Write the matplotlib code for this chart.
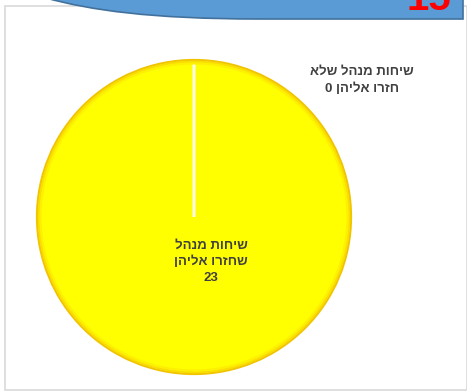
import matplotlib.pyplot as plt
from matplotlib.patches import Rectangle, PathPatch, Circle
from matplotlib.path import Path

# pie data
labels = ["שיחות מנהל\nשחזרו אליהן", "שיחות מנהל שלא\nחזרו אליהן"]
values = [23, 0]
colors = ["#FFFF00", "#FFFF00"]
label_pos = [(0.11, -0.285), (1.07, 0.87)]
badge_number = "15"


def rtl(s):
    # matplotlib has no bidi support: reverse hebrew words, keep numbers
    out = []
    for line in s.split("\n"):
        if line.strip().isdigit():
            out.append(line)
        else:
            out.append(line[::-1])
    return "\n".join(out)


W, H = 467, 392
fig = plt.figure(figsize=(W / 100, H / 100), dpi=100)
fig.patch.set_facecolor("white")

# chart border
fig.add_artist(Rectangle((4.5 / W, 2.5 / H), 462 / W, 384 / H, transform=fig.transFigure,
                         facecolor="none", edgecolor="#D9D9D9", linewidth=1.2))

# blue title banner running off the top
def px(x, y):
    return (x / W, 1 - y / H)

verts = [px(46, -2), px(90, 10), px(150, 19), px(260, 19), px(463, 19), px(463, -5), px(46, -5), px(46, -2)]
codes = [Path.MOVETO, Path.CURVE4, Path.CURVE4, Path.CURVE4, Path.LINETO, Path.LINETO, Path.LINETO, Path.CLOSEPOLY]
fig.add_artist(PathPatch(Path(verts, codes), transform=fig.transFigure,
                         facecolor="#5B9BD5", edgecolor="#41719C", linewidth=1.2))
fig.text(451 / W, 1 - 10 / H, badge_number, ha="right", va="baseline",
         color="#FF0000", fontsize=29, fontweight="bold", family="Liberation Sans")

# pie
R = 157
cx, cy = 194, 217
ax = fig.add_axes([(cx - R) / W, (H - cy - R) / H, 2 * R / W, 2 * R / H])
wedges, _ = ax.pie(values, colors=colors, startangle=90, counterclock=False, radius=1,
                   wedgeprops=dict(edgecolor="white", linewidth=2))
for w in wedges:
    w.set_clip_on(False)
ax.set_xlim(-1, 1)
ax.set_ylim(-1, 1)
ax.set_aspect("equal")
ax.axis("off")

# soft darker rim
rims = [(1.0, "#F0C400", 1.6), (0.989, "#F9DC00", 1.6), (0.978, "#FDF000", 1.6)]
for r, c, lw in rims:
    ax.add_patch(Circle((0, 0), r, facecolor="none", edgecolor=c, linewidth=lw, clip_on=False))

for lab, val, (x, y) in zip(labels, values, label_pos):
    text = rtl(lab + "\n" + str(val)) if val else rtl(lab + " " + str(val))
    ax.text(x, y, text, ha="center", va="center", fontsize=9.5, fontweight="bold",
            color="#404040", family="Liberation Sans", linespacing=1.45, clip_on=False)

fig.savefig("out.png", dpi=100)
